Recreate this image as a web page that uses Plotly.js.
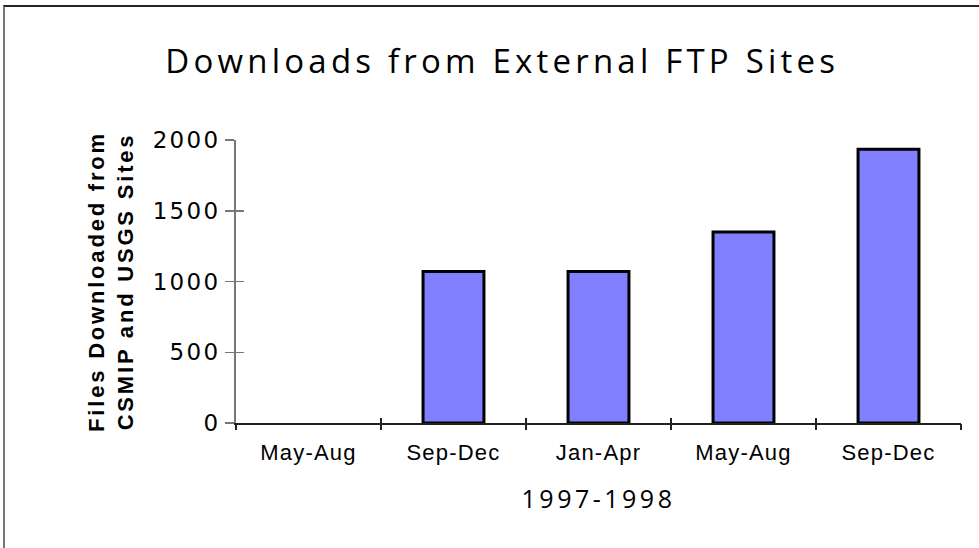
<!DOCTYPE html>
<html>
<head>
<meta charset="utf-8">
<script src="https://cdn.plot.ly/plotly-3.0.1.min.js"></script>
<style>
  html, body { margin: 0; padding: 0; background: #fff; overflow: hidden; }
  #wrap { position: relative; width: 979px; height: 548px; }
  #chart { position: absolute; left: 0; top: 0; width: 979px; height: 548px; }
  #frame { position: absolute; left: 3px; top: 5px; width: 980px; height: 560px;
           border-top: 2px solid #222; border-left: 2px solid #777; pointer-events: none; box-sizing: border-box; }
  .gtitle { letter-spacing: 4.2px; }
  .xtitle { letter-spacing: 3.5px; }
  .ytitle { letter-spacing: 2.8px; }
  .ytick text { letter-spacing: 2.3px; }
  .xtick text { letter-spacing: 1.2px; }
</style>
</head>
<body>
<div id="wrap">
  <div id="chart"></div>
  <div id="frame"></div>
</div>
<script>
// ---- data ----
var periods = ["May-Aug", "Sep-Dec", "Jan-Apr", "May-Aug", "Sep-Dec"];
var periodIndex = [0, 1, 2, 3, 4];
var filesDownloaded = [0, 1070, 1070, 1350, 1935];
var boundaryTicks = [-0.5, 0.5, 1.5, 2.5, 3.5, 4.5];
var yTicks = [0, 500, 1000, 1500, 2000];

var chartTitle = "Downloads from External FTP Sites";
var xTitle = "1997-1998";
var yTitle = "Files Downloaded from<br>CSMIP and USGS Sites";

// outline only on bars with a visible height
var outlineWidths = filesDownloaded.map(function (v) { return v > 0 ? 3 : 0; });

var trace = {
  type: "bar",
  x: periodIndex,
  y: filesDownloaded,
  marker: { color: "#8080FF", line: { color: "#000000", width: outlineWidths } },
  hoverinfo: "skip"
};

var xRange = [-0.5, 4.5];
var yRange = [0, 2000];

var layout = {
  width: 979,
  height: 548,
  margin: { l: 236, r: 18, t: 140, b: 125 },
  paper_bgcolor: "#ffffff",
  plot_bgcolor: "#ffffff",
  showlegend: false,
  bargap: 0.58,
  title: {
    text: chartTitle,
    font: { family: "Open Sans", size: 33, color: "#000" },
    xref: "container", x: 0.513, xanchor: "center",
    yref: "container", y: 1 - 61 / 548, yanchor: "middle"
  },
  xaxis: {
    range: xRange,
    tickvals: periodIndex,
    ticktext: periods,
    ticks: "",
    showgrid: false,
    zeroline: false,
    showline: true,
    linecolor: "#222",
    linewidth: 1.5,
    tickfont: { family: "Liberation Sans", size: 22, color: "#000" },
    ticklabelstandoff: 9,
    title: { text: xTitle, font: { family: "Open Sans", size: 25, color: "#000" }, standoff: 26 },
    fixedrange: true
  },
  xaxis2: {
    overlaying: "x", anchor: "y",
    range: xRange,
    tickvals: boundaryTicks,
    ticks: "outside", ticklen: 6, tickwidth: 1.2, tickcolor: "#222",
    showticklabels: false, showgrid: false, zeroline: false, showline: false
  },
  xaxis3: {
    overlaying: "x", anchor: "y",
    range: xRange,
    tickvals: boundaryTicks,
    ticks: "inside", ticklen: 5, tickwidth: 1.2, tickcolor: "#222",
    showticklabels: false, showgrid: false, zeroline: false, showline: false
  },
  yaxis: {
    range: yRange,
    tickvals: yTicks,
    ticks: "outside", ticklen: 9, tickwidth: 1.5, tickcolor: "#777",
    showgrid: false,
    zeroline: false,
    showline: true,
    linecolor: "#777",
    linewidth: 2,
    tickfont: { family: "DejaVu Sans", size: 23, color: "#000" },
    title: { text: yTitle, font: { family: "Liberation Sans", size: 22, color: "#000", weight: "bold" }, standoff: 13 },
    fixedrange: true
  },
  yaxis2: {
    overlaying: "y", anchor: "x",
    range: yRange,
    tickvals: yTicks,
    ticks: "inside", ticklen: 8, tickwidth: 1.5, tickcolor: "#777",
    showticklabels: false, showgrid: false, zeroline: false, showline: false
  }
};

var helperX2 = { type: "scatter", x: [], y: [], xaxis: "x2", yaxis: "y", hoverinfo: "skip", showlegend: false };
var helperX3 = { type: "scatter", x: [], y: [], xaxis: "x3", yaxis: "y", hoverinfo: "skip", showlegend: false };
var helperY2 = { type: "scatter", x: [], y: [], xaxis: "x", yaxis: "y2", hoverinfo: "skip", showlegend: false };

Plotly.newPlot("chart", [trace, helperX2, helperX3, helperY2], layout, { displayModeBar: false, staticPlot: true });
</script>
</body>
</html>
